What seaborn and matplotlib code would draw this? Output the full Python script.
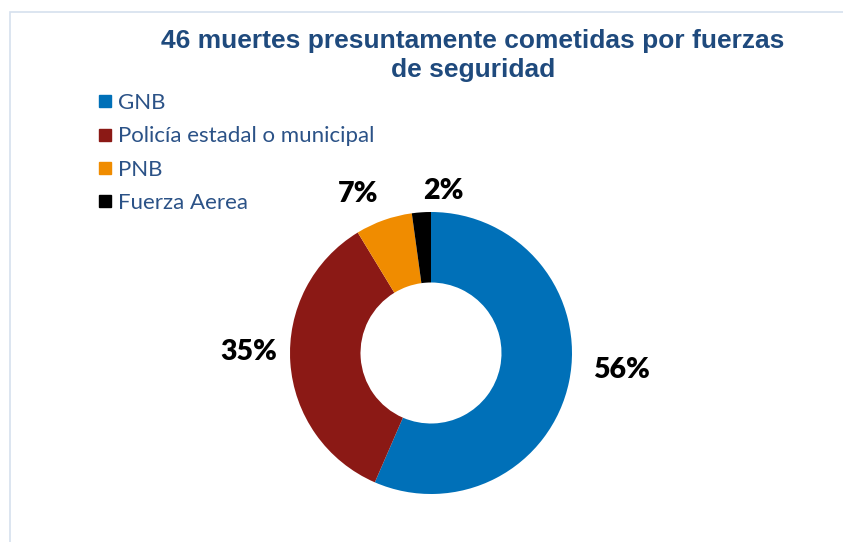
import matplotlib
matplotlib.use("Agg")
import matplotlib.pyplot as plt
import seaborn as sns
from matplotlib.patches import Rectangle
from matplotlib.lines import Line2D

# ---- data ----
categories = ["GNB", "Policía estadal o municipal", "PNB", "Fuerza Aerea"]
counts = [26, 16, 3, 1]
pct_labels = ["56%", "35%", "7%", "2%"]
colors = ["#0070B8", "#8B1915", "#F08C00", "#000000"]
title = "46 muertes presuntamente cometidas por fuerzas\nde seguridad"

sns.set_theme(style="white")
plt.rcParams["font.family"] = ["Lato", "DejaVu Sans"]

W, H = 843, 542
fig = plt.figure(figsize=(W / 100, H / 100), dpi=100)
fig.patch.set_facecolor("white")

# chart border (light)
fig.patches.append(Rectangle((10 / W, -0.1), 1.2, (H - 12) / H + 0.1,
                             transform=fig.transFigure, fill=False,
                             edgecolor="#D6E0EE", linewidth=1.2))

ax = fig.add_axes([0, 0, 1, 1])
ax.set_facecolor("none")
wedges, _ = ax.pie(counts, colors=colors, startangle=90, counterclock=False,
                   radius=1.0, wedgeprops=dict(width=0.5, edgecolor="none"))

cx, cy, r = 431, 353, 141
ax.set_xlim(-cx / r, (W - cx) / r)
ax.set_ylim(-(H - cy) / r, cy / r)
ax.set_aspect("equal", adjustable="datalim")
ax.axis("off")

# outside-end percentage labels
label_pos = [(1.35, -0.12), (-1.29, 0.01), (-0.52, 1.13), (0.085, 1.15)]
for (x, y), t in zip(label_pos, pct_labels):
    ax.text(x, y, t, ha="center", va="center", fontsize=20.5,
            fontweight="heavy", color="black", family=["Lato", "DejaVu Sans"])

# title
fig.text(473 / W, 1 - 29 / H, title, ha="center", va="top",
         fontsize=19, fontweight="bold", color="#1F4A7D",
         family=["Liberation Sans", "DejaVu Sans"], linespacing=1.28)

# legend
handles = [Line2D([], [], marker="s", linestyle="none", markersize=9,
                  markerfacecolor=c, markeredgecolor=c) for c in colors]
leg = fig.legend(handles, categories, loc="upper left",
                 bbox_to_anchor=(98 / W, 1 - 93 / H), frameon=False,
                 fontsize=16, labelcolor="#2B5287", handlelength=0.6,
                 handletextpad=0.3, labelspacing=0.6, borderpad=0,
                 borderaxespad=0)

fig.savefig("out.png", dpi=100, facecolor="white")
